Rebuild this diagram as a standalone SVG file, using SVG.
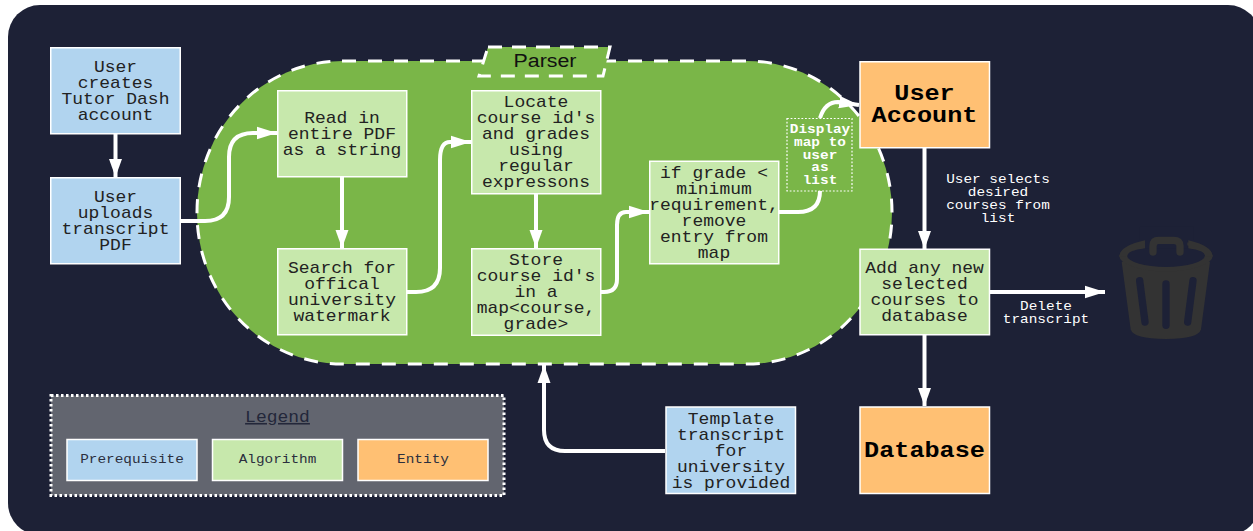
<svg xmlns="http://www.w3.org/2000/svg" width="1253" height="531" viewBox="0 0 1253 531">
<style>
.n{stroke:#fff;stroke-width:1.500}
.blue{fill:#b1d4ef}.green{fill:#c7e8ac}.orange{fill:#ffc073}
text{font-family:"Liberation Mono",monospace;text-anchor:middle;font-size:16px;fill:#222}
.b{font-weight:bold;font-size:22.400px;fill:#000}
.s{font-size:12.800px;fill:#fff}
.d{font-weight:bold;font-size:12.800px;fill:#fff}
.l{font-size:12.800px;fill:#2b2f3e}
.c{fill:none;stroke:#fff;stroke-width:4}
.a{marker-end:url(#ah)}
.h{marker-end:url(#ahh)}
</style>
<defs>
<marker id="ah" markerUnits="userSpaceOnUse" markerWidth="19" markerHeight="14" refX="18" refY="7" orient="auto"><path d="M0 0.500L18 7L0 13.500z" fill="#fff"/></marker>
<marker id="ahh" markerUnits="userSpaceOnUse" markerWidth="21" markerHeight="14" refX="20" refY="7" orient="auto"><path d="M0 0.800L20 7L0 13.200z" fill="#fff"/></marker>
</defs>
<rect width="1253" height="531" fill="#fff"/>
<rect id="background" x="8" y="5" width="1252" height="530" rx="32" fill="#1d2136"/>
<g id="parser">
<rect x="197" y="61" width="695" height="303" rx="145" ry="151" fill="#7ab648" stroke="#fff" stroke-width="3" stroke-dasharray="14 12"/>
<path d="M488 47H610L603 76H479z" fill="#7ab648" stroke="#fff" stroke-width="3" stroke-dasharray="14 10"/>
<text transform="translate(545 67) scale(1.125 1)" style="font-family:'Liberation Sans',sans-serif;font-size:19px;fill:#111">Parser</text>
</g>
<g id="connectors">
<path class="c a" d="M115.500 134V177"/>
<path class="c h" d="M181 221H205Q229 221 229 197V157Q229 133 253 133H277"/>
<path class="c a" d="M342 177V248"/>
<path class="c h" d="M407 292H416Q440 292 440 268V160Q440 142 450 142H471"/>
<path class="c a" d="M536 194V248"/>
<path class="c h" d="M601 292H604Q617 292 617 279V225Q617 212 626 212H649"/>
<path class="c" d="M779 212H798Q820 212 820 191"/>
<path class="c h" d="M820 118Q825 102 838 102L859 105"/>
<path class="c a" d="M924.500 148V249"/>
<path class="c h" d="M990 292H1105"/>
<path class="c a" d="M924.500 335V406"/>
<path class="c a" d="M665 451H565Q544 451 544 430V365"/>
</g>
<g id="user-creates">
<rect class="n blue" x="50.750" y="47.750" width="129.500" height="86"/>
<text transform="translate(115.500 72) scale(1.125 1)"><tspan x="0">User</tspan><tspan x="0" dy="16">creates</tspan><tspan x="0" dy="16">Tutor Dash</tspan><tspan x="0" dy="16">account</tspan></text>
</g>
<g id="user-uploads">
<rect class="n blue" x="50.750" y="177.750" width="129.500" height="86"/>
<text transform="translate(115.500 202) scale(1.125 1)"><tspan x="0">User</tspan><tspan x="0" dy="16">uploads</tspan><tspan x="0" dy="16">transcript</tspan><tspan x="0" dy="16">PDF</tspan></text>
</g>
<g id="read-pdf">
<rect class="n green" x="277.750" y="90.750" width="129" height="86"/>
<text transform="translate(342 123) scale(1.125 1)"><tspan x="0">Read in</tspan><tspan x="0" dy="16">entire PDF</tspan><tspan x="0" dy="16">as a string</tspan></text>
</g>
<g id="search-watermark">
<rect class="n green" x="277.750" y="248.750" width="129" height="86"/>
<text transform="translate(342 273) scale(1.125 1)"><tspan x="0">Search for</tspan><tspan x="0" dy="16">offical</tspan><tspan x="0" dy="16">university</tspan><tspan x="0" dy="16">watermark</tspan></text>
</g>
<g id="locate-ids">
<rect class="n green" x="471.750" y="90.750" width="129" height="103"/>
<text transform="translate(536 107) scale(1.125 1)"><tspan x="0">Locate</tspan><tspan x="0" dy="16">course id's</tspan><tspan x="0" dy="16">and grades</tspan><tspan x="0" dy="16">using</tspan><tspan x="0" dy="16">regular</tspan><tspan x="0" dy="16">expressons</tspan></text>
</g>
<g id="store-ids">
<rect class="n green" x="471.750" y="248.750" width="129" height="86.500"/>
<text transform="translate(536 265) scale(1.125 1)"><tspan x="0">Store</tspan><tspan x="0" dy="16">course id's</tspan><tspan x="0" dy="16">in a</tspan><tspan x="0" dy="16">map&lt;course,</tspan><tspan x="0" dy="16">grade&gt;</tspan></text>
</g>
<g id="filter-grade">
<rect class="n green" x="649.750" y="161.250" width="129" height="102.500"/>
<text transform="translate(714 178) scale(1.125 1)"><tspan x="0">if grade &lt;</tspan><tspan x="0" dy="16">minimum</tspan><tspan x="0" dy="16">requirement,</tspan><tspan x="0" dy="16">remove</tspan><tspan x="0" dy="16">entry from</tspan><tspan x="0" dy="16">map</tspan></text>
</g>
<g id="display-map">
<rect x="787" y="118.500" width="65" height="72.500" fill="#7ab648" stroke="#fff" stroke-width="1.200" stroke-dasharray="1.800 1.800"/>
<text class="d" transform="translate(820 133) scale(1.125 1)"><tspan x="0">Display</tspan><tspan x="0" dy="12.800">map to</tspan><tspan x="0" dy="12.800">user</tspan><tspan x="0" dy="12.800">as</tspan><tspan x="0" dy="12.800">list</tspan></text>
</g>
<g id="user-account">
<rect class="n orange" x="860" y="61.750" width="129.500" height="86"/>
<text class="b" transform="translate(924.500 100) scale(1.125 1)"><tspan x="0">User</tspan><tspan x="0" dy="22">Account</tspan></text>
</g>
<g id="add-courses">
<rect class="n green" x="860" y="249.250" width="129.500" height="85.500"/>
<text transform="translate(924.500 273) scale(1.125 1)"><tspan x="0">Add any new</tspan><tspan x="0" dy="16">selected</tspan><tspan x="0" dy="16">courses to</tspan><tspan x="0" dy="16">database</tspan></text>
</g>
<g id="database">
<rect class="n orange" x="860" y="407" width="129.500" height="86.500"/>
<text class="b" transform="translate(924.500 457) scale(1.125 1)">Database</text>
</g>
<g id="template">
<rect class="n blue" x="666" y="407" width="129.500" height="86.500"/>
<text transform="translate(731 424) scale(1.125 1)"><tspan x="0">Template</tspan><tspan x="0" dy="16">transcript</tspan><tspan x="0" dy="16">for</tspan><tspan x="0" dy="16">university</tspan><tspan x="0" dy="16">is provided</tspan></text>
</g>
<g id="edge-labels">
<text class="s" transform="translate(998 183) scale(1.125 1)"><tspan x="0">User selects</tspan><tspan x="0" dy="12.900">desired</tspan><tspan x="0" dy="12.900">courses from</tspan><tspan x="0" dy="12.900">list</tspan></text>
<text class="s" transform="translate(1046 310) scale(1.125 1)"><tspan x="0">Delete</tspan><tspan x="0" dy="13">transcript</tspan></text>
</g>
<g id="trash" transform="translate(850 40) scale(.33333)">
<path d="M815 665L842 868Q850 897 948 897Q1045 897 1053 868L1080 665z" fill="#333"/>
<ellipse cx="948" cy="648" rx="140" ry="46" fill="#333"/>
<ellipse cx="948" cy="646" rx="117" ry="35" fill="#1d2136"/>
<path d="M885 600V625H1012V600H1030V560H870V600z" fill="#1d2136"/>
<path d="M808 650Q808 618 885 601V625Q832 632 832 648z" fill="#333"/>
<path d="M1088 650Q1088 618 1015 601V625Q1065 632 1065 648z" fill="#333"/>
<path d="M909 636V618Q909 601 926 601H970Q990 601 990 618V636" fill="none" stroke="#333" stroke-width="22" stroke-linecap="round"/>
<g fill="none" stroke="#1d2136" stroke-width="22" stroke-linecap="round">
<path d="M869 722L885 846"/><path d="M948 732V856"/><path d="M1029 722L1013 846"/>
</g>
</g>
<g id="legend">
<rect x="51" y="395.500" width="453" height="100" fill="#62656f" stroke="#fff" stroke-width="3" stroke-dasharray="2.500 2.500"/>
<text transform="translate(277.500 422) scale(1.125 1)" style="fill:#23273a;text-decoration:underline">Legend</text>
<rect class="n blue" x="67" y="439.500" width="130" height="41"/>
<text class="l" transform="translate(132 463) scale(1.125 1)">Prerequisite</text>
<rect class="n green" x="212.500" y="439.500" width="130" height="41"/>
<text class="l" transform="translate(277.500 463) scale(1.125 1)">Algorithm</text>
<rect class="n orange" x="358" y="439.500" width="130" height="41"/>
<text class="l" transform="translate(423 463) scale(1.125 1)">Entity</text>
</g>
</svg>
